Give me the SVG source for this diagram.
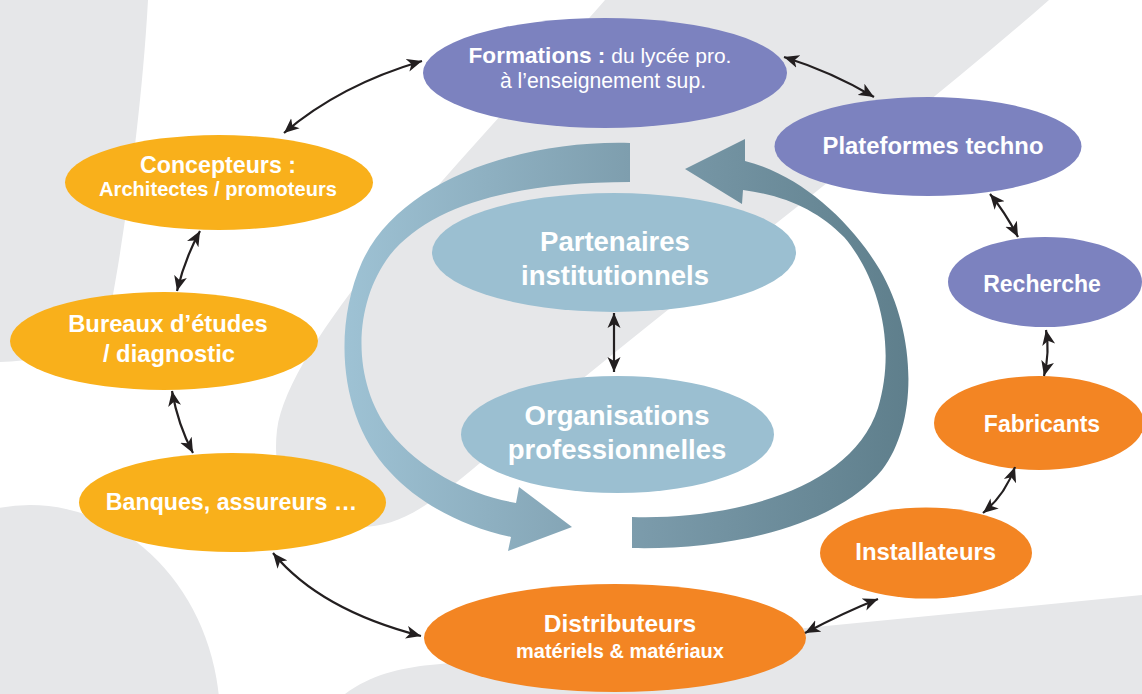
<svg xmlns="http://www.w3.org/2000/svg" width="1142" height="694" viewBox="0 0 1142 694">
<defs>
<style>
.bg{fill:#e6e7e9}
.purple{fill:#7c82bf}
.yellow{fill:#f9b01b}
.orange{fill:#f38523}
.blue{fill:#9bbfd1}
.t{font-family:"Liberation Sans",Arial,sans-serif;font-weight:bold;fill:#fff;text-anchor:middle}
.r{font-weight:normal}
.con{fill:none;stroke:#231f20;stroke-width:2.2;marker-start:url(#ah);marker-end:url(#ah)}
</style>
<marker id="ah" markerUnits="userSpaceOnUse" markerWidth="16" markerHeight="14" refX="15" refY="6.5" orient="auto-start-reverse" viewBox="0 0 16 13">
<path d="M0,0 L15,6.5 L0,13 L4,6.5 Z" fill="#231f20"/>
</marker>
<linearGradient id="gl" gradientUnits="userSpaceOnUse" x1="345" y1="0" x2="630" y2="0">
<stop offset="0" stop-color="#9ec2d4"/>
<stop offset="1" stop-color="#7e9eae"/>
</linearGradient>
<linearGradient id="gr" gradientUnits="userSpaceOnUse" x1="632" y1="0" x2="915" y2="0">
<stop offset="0" stop-color="#7c9cac"/>
<stop offset="1" stop-color="#5e7e8b"/>
</linearGradient>
</defs>
<rect width="1142" height="694" fill="#fff"/>
<g id="background">
<path class="bg" d="M0,0 L148,0 C142,110 125,230 112,300 C105,340 60,360 0,362 Z"/>
<ellipse class="bg" cx="30" cy="720" rx="190" ry="215"/>
<path class="bg" d="M605,0 L1049,0 C900,130 700,280 480,463 C430,505 400,527 360,527 C300,527 270,490 277,430 C290,330 500,120 605,0 Z"/>
<path class="bg" d="M345,694 C370,675 400,668 430,665 L1142,595 L1142,694 Z"/>
</g>
<g id="cycle-arrows">
<path fill="url(#gl)" d="M630,143 C520,140 400,180 362,262 C332,330 340,420 390,472 C420,505 465,527 511,537 L508,551 L572,527 L519,487 L516,503 C470,495 420,470 390,432 C352,382 352,305 390,255 C432,203 520,182 630,182 Z"/>
<path fill="url(#gr)" d="M632,517 C730,520 852,490 878,408 C898,342 876,274 844,237 C818,211 787,196 743,190 L742,204 L685,169 L745,139 L745,161 C800,175 850,220 880,270 C915,330 920,420 882,470 C832,530 720,550 632,548 Z"/>
</g>
<g id="formations">
<ellipse class="purple" cx="605" cy="73" rx="182" ry="55"/>
<text class="t" x="600" y="63" font-size="22.6">Formations :<tspan class="r" font-size="21"> du lycée pro.</tspan></text>
<text class="t r" x="603" y="88" font-size="21.2">à l’enseignement sup.</text>
</g>
<g id="plateformes">
<ellipse class="purple" cx="928" cy="146.5" rx="153.5" ry="49.5"/>
<text class="t" x="933" y="154" font-size="23.8">Plateformes techno</text>
</g>
<g id="recherche">
<ellipse class="purple" cx="1045" cy="282" rx="97" ry="45"/>
<text class="t" x="1042" y="292" font-size="23">Recherche</text>
</g>
<g id="fabricants">
<ellipse class="orange" cx="1039" cy="423" rx="105" ry="47"/>
<text class="t" x="1042" y="432" font-size="23">Fabricants</text>
</g>
<g id="installateurs">
<ellipse class="orange" cx="926" cy="553" rx="106" ry="45.5"/>
<text class="t" x="925.7" y="560" font-size="23.9">Installateurs</text>
</g>
<g id="distributeurs">
<ellipse class="orange" cx="615" cy="638" rx="191" ry="54"/>
<text class="t" x="620" y="632" font-size="24.5">Distributeurs</text>
<text class="t" x="620" y="658" font-size="20">matériels &amp; matériaux</text>
</g>
<g id="banques">
<ellipse class="yellow" cx="232.5" cy="502.5" rx="153.5" ry="49.5"/>
<text class="t" x="231.5" y="510" font-size="23.2">Banques, assureurs …</text>
</g>
<g id="bureaux">
<ellipse class="yellow" cx="164" cy="341" rx="154" ry="49"/>
<text class="t" x="168" y="331.7" font-size="23.8">Bureaux d’études</text>
<text class="t" x="169" y="361.7" font-size="23.8">/ diagnostic</text>
</g>
<g id="concepteurs">
<ellipse class="yellow" cx="219" cy="182.5" rx="154" ry="47.5"/>
<text class="t" x="218" y="172.7" font-size="23.2">Concepteurs :</text>
<text class="t" x="218" y="196" font-size="20.1">Architectes / promoteurs</text>
</g>
<g id="partenaires">
<ellipse class="blue" cx="614" cy="252.5" rx="182" ry="59.5"/>
<text class="t" x="615" y="251" font-size="27.5">Partenaires</text>
<text class="t" x="615" y="285" font-size="27.5">institutionnels</text>
</g>
<g id="organisations">
<ellipse class="blue" cx="617.5" cy="434.5" rx="156.5" ry="58.5"/>
<text class="t" x="617" y="425" font-size="27.5">Organisations</text>
<text class="t" x="617" y="459.3" font-size="27.5">professionnelles</text>
</g>
<g id="connectors">
<path class="con" d="M284,133 Q340,85 422,61"/>
<path class="con" d="M784,57 Q832,72 874,97"/>
<path class="con" d="M990,194 Q1005,212 1018,237"/>
<path class="con" d="M1046,330 Q1050,352 1044,376"/>
<path class="con" d="M1015,467 Q1005,495 983,513"/>
<path class="con" d="M878,599 Q845,612 805,633"/>
<path class="con" d="M273,553 Q320,610 421,636"/>
<path class="con" d="M172,391 Q178,425 193,453"/>
<path class="con" d="M200,231 Q185,258 177,291"/>
<path class="con" d="M614,313 L614,372"/>
</g>
</svg>
